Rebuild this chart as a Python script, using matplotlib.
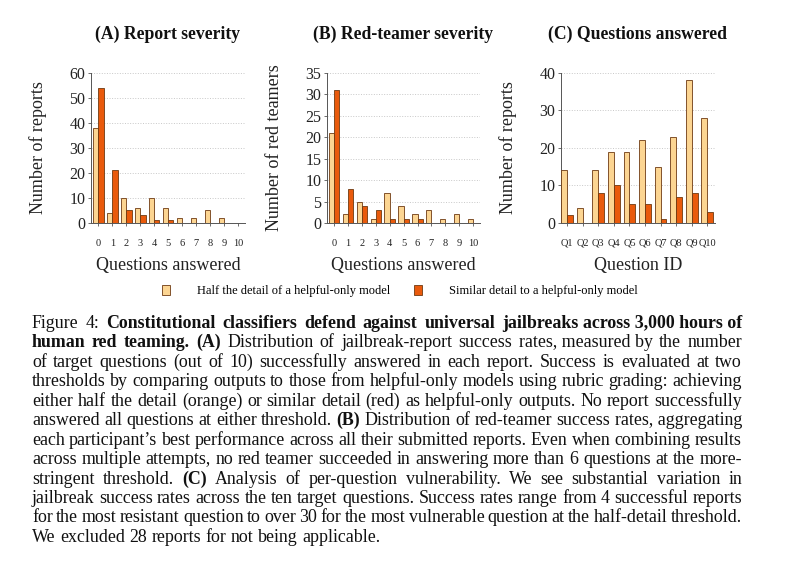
import numpy as np
import matplotlib
matplotlib.use("Agg")
import matplotlib.pyplot as plt
from matplotlib.patches import Patch
from matplotlib.font_manager import FontProperties

# --------------------------------------------------
# data
# --------------------------------------------------
answered = list(range(11))

report_half    = [38, 4, 10, 6, 10, 6, 2, 2, 5, 2, 0]
report_similar = [54, 21, 5, 3, 1, 1, 0, 0, 0, 0, 0]

teamer_half    = [21, 2, 5, 1, 7, 4, 2, 3, 1, 2, 1]
teamer_similar = [31, 8, 4, 3, 1, 1, 1, 0, 0, 0, 0]

question_ids     = ["Q1", "Q2", "Q3", "Q4", "Q5", "Q6", "Q7", "Q8", "Q9", "Q10"]
question_half    = [14, 4, 14, 19, 19, 22, 15, 23, 38, 28]
question_similar = [2, 0, 8, 10, 5, 5, 1, 7, 8, 3]

series_labels = ["Half the detail of a helpful-only model",
                 "Similar detail to a helpful-only model"]

caption_lines = [
    "Figure 4: **Constitutional classifiers defend against universal jailbreaks across 3,000 hours of**",
    "**human red teaming. (A)** Distribution of jailbreak-report success rates, measured by the number",
    "of target questions (out of 10) successfully answered in each report.  Success is evaluated at two",
    "thresholds by comparing outputs to those from helpful-only models using rubric grading: achieving",
    "either half the detail (orange) or similar detail (red) as helpful-only outputs. No report successfully",
    "answered all questions at either threshold. **(B)** Distribution of red-teamer success rates, aggregating",
    "each participant\u2019s best performance across all their submitted reports. Even when combining results",
    "across multiple attempts, no red teamer succeeded in answering more than 6 questions at the more-",
    "stringent threshold.  **(C)** Analysis of per-question vulnerability.  We see substantial variation in",
    "jailbreak success rates across the ten target questions. Success rates range from 4 successful reports",
    "for the most resistant question to over 30 for the most vulnerable question at the half-detail threshold.",
    "We excluded 28 reports for not being applicable.",
]

# --------------------------------------------------
# style
# --------------------------------------------------
plt.rcParams["font.family"] = "Liberation Serif"
light = "#FCD592"
dark = "#E95A0C"
edge = "#6E3A12"
W, H = 800, 564

fig = plt.figure(figsize=(8, 5.64), dpi=100)


def panel(left_px, right_px, title, cats, half, similar, ylim, yticks, ylabel, xlabel, xlim):
    ax = fig.add_axes([left_px / W, 1 - 223 / H, (right_px - left_px) / W, 150 / H])
    x = np.arange(len(cats))
    bw = 0.38
    ax.bar(x - bw / 2, half, bw, color=light, edgecolor=edge, linewidth=0.6, zorder=3)
    ax.bar(x + bw / 2, similar, bw, color=dark, edgecolor=edge, linewidth=0.6, zorder=3)
    ax.set_xlim(*xlim)
    ax.set_ylim(0, ylim)
    ax.set_yticks(yticks)
    ax.set_xticks(x)
    ax.set_xticklabels(cats)
    ax.tick_params(axis="x", labelsize=7.5, length=2.5, width=0.5, pad=9, colors="#333333")
    ax.tick_params(axis="y", labelsize=11.5, length=2, width=0.5, pad=2, colors="#333333")
    for lab in ax.get_xticklabels() + ax.get_yticklabels():
        lab.set_color("#222222")
    ax.grid(axis="y", linestyle=":", color="#c8c8c8", linewidth=0.7, zorder=0)
    for s in ["top", "right"]:
        ax.spines[s].set_visible(False)
    for s in ["left", "bottom"]:
        ax.spines[s].set_color("#555555")
        ax.spines[s].set_linewidth(0.7)
    ax.set_ylabel(ylabel, fontsize=13, color="#222222")
    ax.yaxis.set_label_coords(-0.285, 0.5)
    ax.set_xlabel(xlabel, fontsize=13, color="#222222")
    ax.xaxis.set_label_coords(0.5, -0.225)
    ax.text(0.5, 1.255, title, transform=ax.transAxes, ha="center", va="center",
            fontsize=12.7, fontweight="bold", color="#111111")
    return ax


panel(91, 245, "(A) Report severity", [str(v) for v in answered],
      report_half, report_similar, 60, range(0, 61, 10),
      "Number of reports", "Questions answered", (-0.52, 10.5))
panel(327, 480, "(B) Red-teamer severity", [str(v) for v in answered],
      teamer_half, teamer_similar, 35, range(0, 36, 5),
      "Number of red teamers", "Questions answered", (-0.52, 10.5))
panel(561, 715, "(C) Questions answered", question_ids,
      question_half, question_similar, 40, range(0, 41, 10),
      "Number of reports", "Question ID", (-0.4, 9.5))

# --------------------------------------------------
# legend
# --------------------------------------------------
handles = [Patch(facecolor=light, edgecolor=edge, linewidth=0.6),
           Patch(facecolor=dark, edgecolor=edge, linewidth=0.6)]
fig.legend(handles, series_labels, loc="center", bbox_to_anchor=(0.5, 1 - 291 / H),
           ncol=2, frameon=False, fontsize=9, handlelength=0.6, handleheight=0.85,
           handletextpad=2.2, columnspacing=1.9)

# --------------------------------------------------
# caption (justified by hand)
# --------------------------------------------------
renderer = fig.canvas.get_renderer()
cap_size = 12.9


def descent(s, wt):
    prop = FontProperties(family="Liberation Serif", size=cap_size, weight=wt)
    return renderer.get_text_width_height_descent(s, prop, ismath=False)[2]


x_left, x_right = 32 / W, 742 / W
for i, line in enumerate(caption_lines):
    y = 1 - round(328 + i * 19.45) / H
    chunks = []
    for k, seg in enumerate(line.split("**")):
        for w in seg.split():
            chunks.append([w, "bold" if k % 2 else "normal"])
    # Agg draws words with only a shallow descender (commas) a bit low,
    # so glue those to a neighbour until the chunk has a full descender
    j = 0
    while j < len(chunks):
        s, wt = chunks[j]
        d, lp_d = descent(s, wt), descent("lp", wt)
        if 0.05 < d < lp_d - 0.05:
            if j + 1 < len(chunks) and chunks[j + 1][1] == wt:
                chunks[j][0] = s + " " + chunks[j + 1][0]
                del chunks[j + 1]
                continue
            if j > 0 and chunks[j - 1][1] == wt:
                chunks[j - 1][0] = chunks[j - 1][0] + " " + s
                del chunks[j]
                j -= 1
                continue
        j += 1
    texts = [fig.text(0, y, s, fontsize=cap_size, fontweight=wt, va="baseline", color="#111111")
             for s, wt in chunks]
    widths = [t.get_window_extent(renderer).width / fig.bbox.width for t in texts]
    if i == len(caption_lines) - 1:
        gap = 0.25 * cap_size * 100 / 72 / W
    else:
        gap = (x_right - x_left - sum(widths)) / (len(chunks) - 1)
    x = x_left
    for t, w in zip(texts, widths):
        t.set_x(x)
        x += w + gap

fig.savefig("out.png", dpi=100, facecolor="white")
